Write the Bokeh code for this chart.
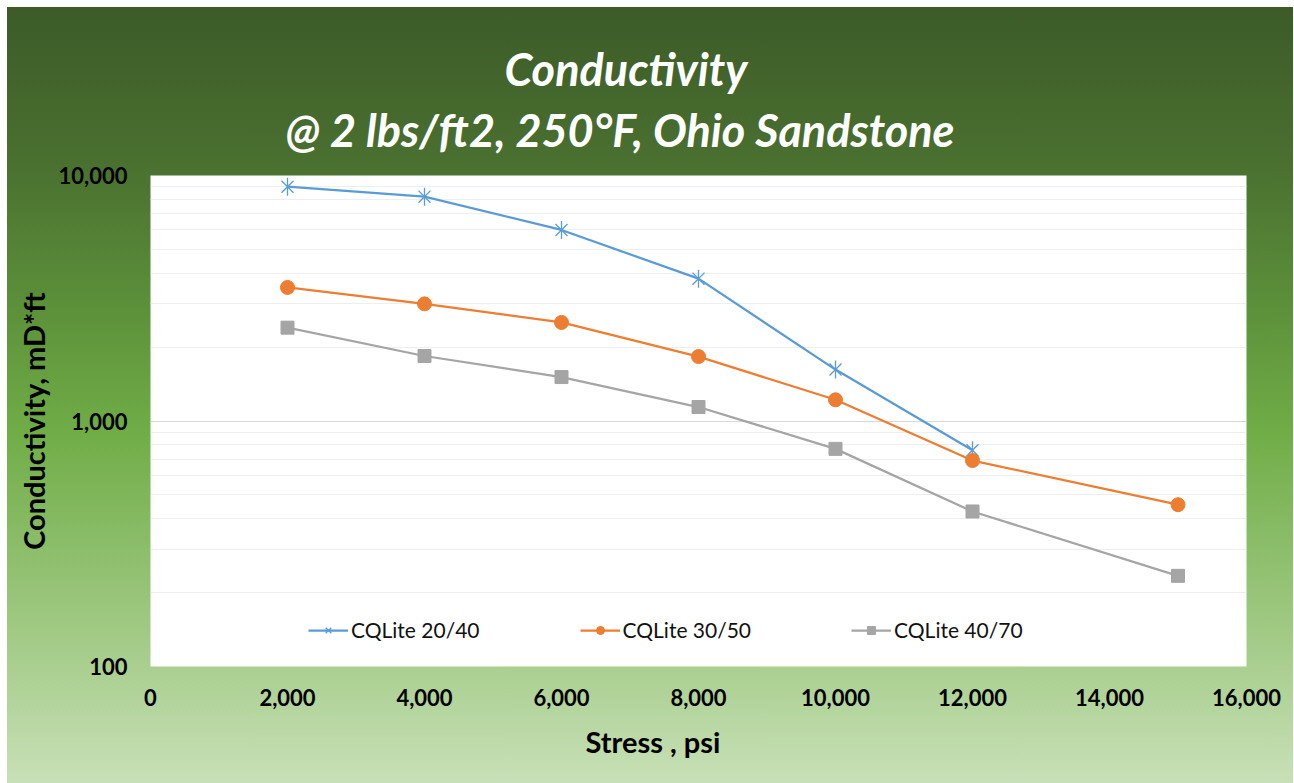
from bokeh.plotting import figure
from bokeh.models import (FixedTicker, NumeralTickFormatter, Legend, LegendItem,
                          Title, Range1d)
from bokeh.embed import file_html
from bokeh.resources import INLINE

# ---------------- data ----------------
stress_2040 = [2000, 4000, 6000, 8000, 10000, 12000]
cq_2040 = [9000, 8200, 6000, 3800, 1620, 760]

stress_3050 = [2000, 4000, 6000, 8000, 10000, 12000, 15000]
cq_3050 = [3500, 3000, 2520, 1830, 1220, 690, 456]

stress_4070 = [2000, 4000, 6000, 8000, 10000, 12000, 15000]
cq_4070 = [2400, 1840, 1510, 1140, 770, 428, 234]

series_names = ["CQLite 20/40", "CQLite 30/50", "CQLite 40/70"]
x_ticks = [0, 2000, 4000, 6000, 8000, 10000, 12000, 14000, 16000]
y_ticks = [100, 1000, 10000]

title_line1 = "Conductivity"
title_line2 = "@ 2 lbs/ft2, 250°F, Ohio Sandstone"
x_label = "Stress , psi"
y_label = "Conductivity, mD*ft"

FONT = "Lato"
BLUE = "#5b9bd5"
ORANGE = "#ed7d31"
GRAY = "#a5a5a5"

gradient = ("linear-gradient(to bottom, #3c5b28 0%, #4a7030 20%, #5b8f39 38%, "
            "#70ad47 55%, #9cc77e 78%, #c8e0b7 100%)")

p = figure(width=1286, height=776, y_axis_type="log",
           x_range=Range1d(0, 16000), y_range=Range1d(100, 10000),
           output_backend="svg", toolbar_location=None, title=None,
           min_border_left=143, min_border_right=47,
           min_border_top=168, min_border_bottom=117,
           background_fill_color="white", border_fill_alpha=0,
           outline_line_color=None,
           styles={"background": gradient, "margin-left": "7px",
                   "margin-top": "7px"})

# titles (first added sits closest to the frame)
t2 = Title(text=title_line2, align="left", offset=135, text_font=FONT,
           text_font_size="45px", text_font_style="bold italic",
           text_color="white", standoff=37)
t1 = Title(text=title_line1, align="left", offset=354, text_font=FONT,
           text_font_size="45px", text_font_style="bold italic",
           text_color="white", standoff=-26)
p.add_layout(t2, "above")
p.add_layout(t1, "above")

# axes
yt = FixedTicker(ticks=y_ticks,
                 minor_ticks=[m * d for d in (100, 1000) for m in range(2, 10)])
p.yaxis.ticker = yt
p.ygrid.ticker = yt
p.yaxis.formatter = NumeralTickFormatter(format="0,0")
p.xaxis.ticker = FixedTicker(ticks=x_ticks)
p.xaxis.formatter = NumeralTickFormatter(format="0,0")

for ax in (p.xaxis, p.yaxis):
    ax.axis_line_color = None
    ax.major_tick_line_color = None
    ax.minor_tick_line_color = None
    ax.major_tick_out = 0
    ax.major_tick_in = 0
    ax.major_label_text_font = FONT
    ax.major_label_text_font_size = "22px"
    ax.major_label_text_font_style = "bold"
    ax.major_label_text_color = "#000000"
    ax.axis_label_text_font = FONT
    ax.axis_label_text_font_size = "29px"
    ax.axis_label_text_font_style = "bold"
    ax.axis_label_text_color = "#000000"

p.yaxis.axis_label = y_label
p.xaxis.major_label_standoff = 22
p.yaxis.major_label_standoff = 19
p.yaxis.axis_label_standoff = 5

# x-axis title, placed left of centre as in the original
xt = Title(text=x_label, align="left", offset=435, text_font=FONT,
           text_font_size="29px", text_font_style="bold",
           text_color="#000000", standoff=26)
p.add_layout(xt, "below")

p.xgrid.visible = False
p.ygrid.grid_line_color = "#d9d9d9"
p.ygrid.grid_line_width = 1
p.ygrid.minor_grid_line_color = "#eeeeee"

# series
l1 = p.line(stress_2040, cq_2040, line_color=BLUE, line_width=2.25)
m1a = p.scatter(stress_2040, cq_2040, marker="x", size=17, line_color=BLUE, line_width=1.3)
m1b = p.scatter(stress_2040, cq_2040, marker="dash", angle=1.5708, size=18,
                line_color=BLUE, line_width=1.3)

l2 = p.line(stress_3050, cq_3050, line_color=ORANGE, line_width=2.25)
m2 = p.scatter(stress_3050, cq_3050, marker="circle", size=14,
               fill_color=ORANGE, line_color=ORANGE)

l3 = p.line(stress_4070, cq_4070, line_color=GRAY, line_width=2.25)
m3 = p.scatter(stress_4070, cq_4070, marker="square", size=13,
               fill_color=GRAY, line_color=GRAY)

legend = Legend(items=[
    LegendItem(label=series_names[0], renderers=[l1, m1a, m1b]),
    LegendItem(label=series_names[1], renderers=[l2, m2]),
    LegendItem(label=series_names[2], renderers=[l3, m3]),
], orientation="horizontal", location=(158, 24),
    glyph_width=40, glyph_height=20, label_standoff=3, spacing=100,
    padding=0, margin=0, border_line_color=None, background_fill_alpha=0,
    label_text_font=FONT, label_text_font_size="21px",
    label_text_color="#111111")
p.add_layout(legend)

open("out.html", "w").write(file_html(p, INLINE))
